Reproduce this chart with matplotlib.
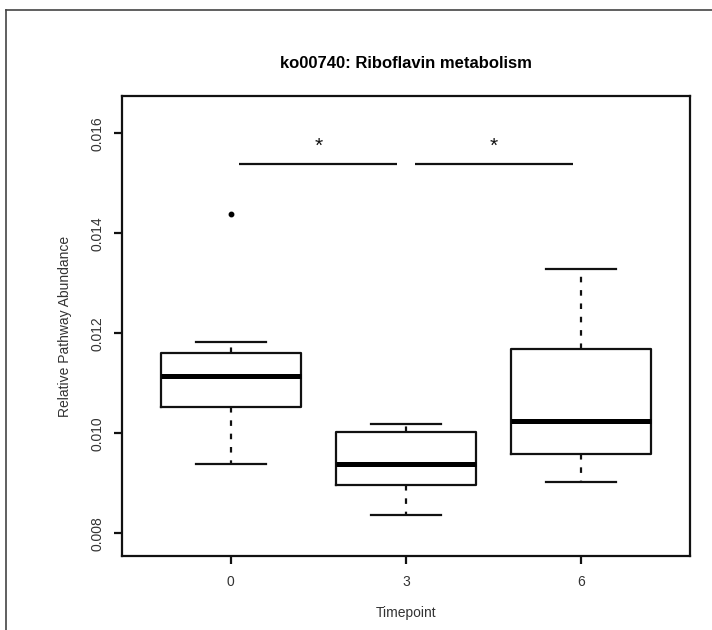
import matplotlib
matplotlib.use("Agg")
import matplotlib.pyplot as plt
from matplotlib.lines import Line2D
from matplotlib.transforms import offset_copy

plt.rcParams['font.family'] = ['Liberation Sans', 'DejaVu Sans']

# ---- data ----
timepoints = ['0', '3', '6']
q1 = [0.01053, 0.00897, 0.00959]
medians = [0.01115, 0.00938, 0.01025]
q3 = [0.01160, 0.01003, 0.01168]
whisker_low = [0.00939, 0.00837, 0.00903]
whisker_high = [0.01182, 0.01018, 0.01329]
outliers = [[0.01439], [], []]

comparisons = [(1, 2), (2, 3)]
comparison_labels = ['*', '*']
bracket_y = 0.015386
star_y = 0.01587

title = 'ko00740: Riboflavin metabolism'
xlabel = 'Timepoint'
ylabel = 'Relative Pathway Abundance'
yticks = [0.008, 0.010, 0.012, 0.014, 0.016]
ytick_labels = ['0.008', '0.010', '0.012', '0.014', '0.016']

# ---- figure ----
W, H = 712, 630
fig = plt.figure(figsize=(W / 100, H / 100), dpi=100)
ax = fig.add_axes([121.7 / W, 1 - 556 / H, (690.3 - 121.7) / W, (556 - 96) / H])

stats = []
for i, tp in enumerate(timepoints):
    stats.append(dict(label=tp, q1=q1[i], med=medians[i], q3=q3[i],
                      whislo=whisker_low[i], whishi=whisker_high[i],
                      fliers=outliers[i]))

positions = list(range(1, len(timepoints) + 1))
ink = '#111111'
ax.bxp(stats, positions=positions, widths=0.8, capwidths=0.4,
       boxprops=dict(color=ink, linewidth=1.6),
       medianprops=dict(color='black', linewidth=3.6, solid_capstyle='butt'),
       whiskerprops=dict(color=ink, linewidth=1.6, linestyle=(0, (2.5, 3.5))),
       capprops=dict(color=ink, linewidth=1.6),
       flierprops=dict(marker='o', markersize=3.2, markerfacecolor='black',
                       markeredgecolor='black', linestyle='none'))

star_size = 15
star_trans = offset_copy(ax.transData, fig=fig, x=0, y=-0.58 * star_size, units='points')
for (a, b), lab in zip(comparisons, comparison_labels):
    ax.plot([a + 0.05, b - 0.05], [bracket_y, bracket_y], color=ink, linewidth=1.6,
            solid_capstyle='butt')
    ax.text((a + b) / 2, star_y, lab, ha='center', va='baseline', fontsize=star_size,
            color=ink, transform=star_trans)

ax.set_xlim(0.378, 3.622)
ax.set_ylim(0.007546, 0.016746)
ax.set_xticks(positions)
ax.set_xticklabels(timepoints)
ax.set_yticks(yticks)
ax.set_yticklabels(ytick_labels, rotation=90, va='center')

label_color = '#333333'
ax.tick_params(axis='both', direction='out', length=6, width=1.6, colors=ink,
               labelsize=10, labelcolor=label_color)
ax.tick_params(axis='y', pad=6.5)
ax.tick_params(axis='x', pad=8)
for sp in ax.spines.values():
    sp.set_linewidth(1.6)
    sp.set_color(ink)

ax.set_xlabel(xlabel, fontsize=10, color=label_color, va='center')
ax.xaxis.set_label_coords(0.5, -(613 - 556) / 460)
ax.set_ylabel(ylabel, fontsize=10, color=label_color, va='center')
ax.yaxis.set_label_coords(-(121.7 - 65) / 568.6, 0.5)

ax.set_title(title, fontsize=12, fontweight='bold', color='black',
             y=1 + 33 / 460, va='center', pad=0)

# outer frame (left and top edges visible in the reference)
fig.add_artist(Line2D([5.5 / W, 5.5 / W], [0, 1 - 10 / H], transform=fig.transFigure,
                      color='#444444', linewidth=1.2))
fig.add_artist(Line2D([5.5 / W, 1], [1 - 10 / H, 1 - 10 / H], transform=fig.transFigure,
                      color='#444444', linewidth=1.2))

fig.savefig('out.png', dpi=100)
